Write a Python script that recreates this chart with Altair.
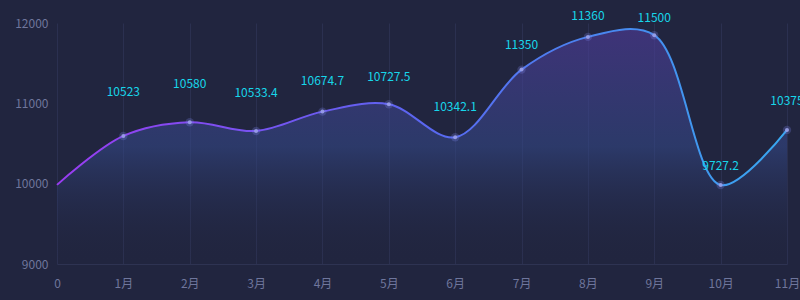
import altair as alt
import pandas as pd

months = ["0", "1月", "2月", "3月", "4月", "5月", "6月", "7月", "8月", "9月", "10月", "11月"]
values = [9985, 10594, 10765, 10656, 10897, 10989, 10578, 11420, 11827, 11848, 9984, 10669]
labels = ["", "10523", "10580", "10533.4", "10674.7", "10727.5", "10342.1",
          "11350", "11360", "11500", "9727.2", "10375"]
label_y = [None, 11141, 11237, 11132, 11278, 11332, 10958, 11726, 12087, 12059, 10220, 11033]
y_ticks = [9000, 10000, 11000, 12000]

df = pd.DataFrame({"m": months, "v": values, "lab": labels, "ly": label_y})
df["base"] = 9000

FONT = "Noto Sans CJK SC"
BG = "#21253f"
CURVE = "catmull-rom"

x = alt.X("m:N", sort=months, scale=alt.Scale(type="point", padding=0),
          axis=alt.Axis(title=None, labelAngle=0, labelColor="#6f769c", labelFontSize=12,
                        labelFont=FONT, labelPadding=14, ticks=False,
                        domainColor="#2e3352", grid=True, gridColor="#2b3050"))
y = alt.Y("v:Q", scale=alt.Scale(domain=[9000, 12000], zero=False, nice=False),
          axis=alt.Axis(title=None, values=y_ticks, format="d", labelColor="#6f769c",
                        labelFontSize=12, labelFont=FONT, labelPadding=9, ticks=False,
                        domain=False, grid=False))

base = alt.Chart(df)

area = base.mark_area(
    interpolate=CURVE,
    fill=alt.Gradient(gradient="linear", x1=0, y1=0, x2=0, y2=1, stops=[
        alt.GradientStop(offset=0, color="rgba(80,60,155,0.62)"),
        alt.GradientStop(offset=0.5, color="rgba(53,74,140,0.55)"),
        alt.GradientStop(offset=1, color="rgba(33,37,63,0)"),
    ]),
).encode(x=x, y=y, y2="base:Q")

line = base.mark_line(
    interpolate=CURVE, strokeWidth=2,
    stroke=alt.Gradient(gradient="linear", x1=0, y1=0, x2=1, y2=0, stops=[
        alt.GradientStop(offset=0, color="#9a3cf2"),
        alt.GradientStop(offset=0.5, color="#5a66f0"),
        alt.GradientStop(offset=1, color="#38a8f0"),
    ]),
).encode(x=x, y=y)

glow = base.transform_filter("datum.m != '0'").mark_circle(
    size=70, color="#7f88f0", opacity=0.25).encode(x=x, y=y)
pts = base.transform_filter("datum.m != '0'").mark_circle(
    size=16, color="#9aa0e8", opacity=0.9).encode(x=x, y=y)

text = base.transform_filter("datum.m != '0'").mark_text(
    color="#17d6ea", fontSize=12, font=FONT, baseline="middle", align="center"
).encode(x=x, y=alt.Y("ly:Q"), text="lab:N")

chart = alt.layer(area, line, glow, pts, text).properties(
    width=730, height=241,
    autosize=alt.AutoSizeParams(type="none"),
    padding={"left": 57, "top": 23, "right": 13, "bottom": 36},
    background=BG,
).configure_view(stroke=None)

chart.save("out.html", embed_options={"renderer": "svg", "actions": False})
